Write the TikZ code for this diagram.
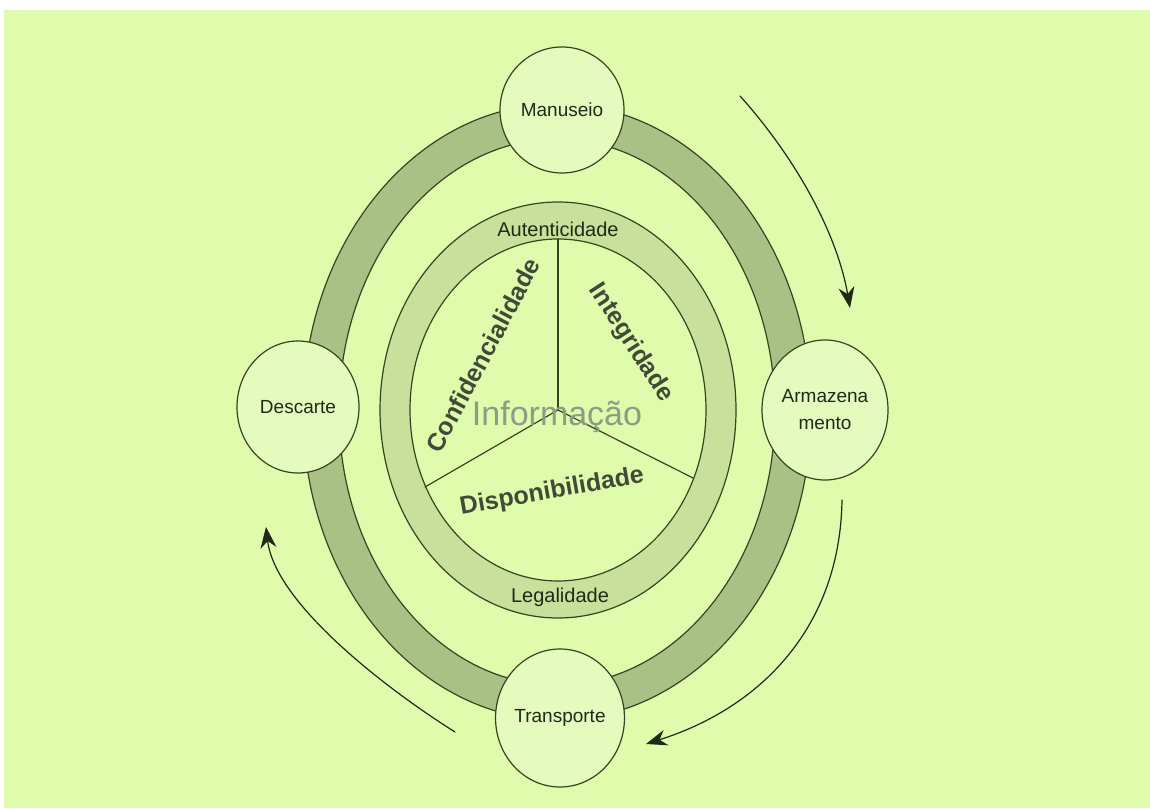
\documentclass[tikz,border=0pt]{standalone}
\usepackage{fontspec}
\setmainfont{Liberation Sans}
\usetikzlibrary{arrows.meta,shapes.geometric}
\definecolor{ciBack}{HTML}{DEFCAB}
\definecolor{ciOuter}{HTML}{A9C185}
\definecolor{ciInner}{HTML}{C9E09D}
\definecolor{ciStage}{HTML}{E4FBBD}
\definecolor{ciInk}{HTML}{1F2A16}
\definecolor{ciLine}{HTML}{34451F}
\definecolor{ciMuted}{HTML}{8E9B85}
\tikzset{
  ci diagram/.style={x=1pt, y=1pt, text=ciInk,
    line cap=round, line join=round},
  ci edge/.style={draw=ciLine, line width=1.2pt},
  ci stage/.style={ellipse, ci edge, fill=ciStage, inner sep=0pt,
    align=center, font=\fontsize{19}{27}\selectfont},
  ci arrow/.style={-{Stealth[length=21pt,width=16pt]}, draw=ciInk, line width=1.2pt},
  ci ring label/.style={font=\fontsize{20}{24}\selectfont, inner sep=0pt},
  ci pillar/.style={font=\bfseries\fontsize{25}{30}\selectfont, text=ciInk!85, inner sep=0pt},
  ci core/.style={font=\fontsize{34}{40}\selectfont, text=ciMuted, inner sep=0pt}
}

\begin{document}
\begin{tikzpicture}[ci diagram]
\useasboundingbox (0,0) rectangle (1150,808);
\fill[ciBack] (4,0) rectangle (1150,798);

% outer ring (life cycle)
\coordinate (cycle) at (557,396);
\fill[ciOuter, even odd rule] (cycle) ellipse [x radius=254pt, y radius=308pt]
  (cycle) ellipse [x radius=218pt, y radius=273pt];
\draw[ci edge] (cycle) ellipse [x radius=254pt, y radius=308pt];
\draw[ci edge] (cycle) ellipse [x radius=218pt, y radius=273pt];

% inner ring
\coordinate (core) at (558,398);
\fill[ciInner, even odd rule] (core) ellipse [x radius=178pt, y radius=208pt]
  (core) ellipse [x radius=148pt, y radius=171pt];
\draw[ci edge] (core) ellipse [x radius=178pt, y radius=208pt];
\draw[ci edge] (core) ellipse [x radius=148pt, y radius=171pt];

% three sectors
\coordinate (core top) at (558,569);
\coordinate (core left) at (425,321);
\coordinate (core right) at (693,330);
\draw[ci edge] (core) -- (core top);
\draw[ci edge] (core) -- (core left);
\draw[ci edge] (core) -- (core right);

\node[ci ring label] (autent) at (558,579) {Autenticidade};
\node[ci ring label] (legal) at (560,211) {Legalidade};
\node[ci core] (info) at (557,391) {Informação};
\node[ci pillar, rotate=62] (confid) at (483,453) {Confidencialidade};
\node[ci pillar, rotate=-57] (integ) at (631,465) {Integridade};
\node[ci pillar, rotate=10] (dispon) at (552,316) {Disponibilidade};

% stages
\node[ci stage, minimum width=124pt, minimum height=126pt] (manuseio) at (562,698) {Manuseio};
\node[ci stage, minimum width=126pt, minimum height=140pt] (armaz) at (825,398) {Armazena\\mento};
\node[ci stage, minimum width=126pt, minimum height=138pt] (transp) at (560,90) {Transporte};
\node[ci stage, minimum width=122pt, minimum height=132pt] (descarte) at (298,401) {Descarte};

% direction of the cycle
\coordinate (turn a start) at (740,712);
\coordinate (turn a end) at (850,500);
\coordinate (turn b start) at (842,308);
\coordinate (turn b end) at (646,64);
\coordinate (turn c start) at (455,76);
\coordinate (turn c end) at (266,281);
\draw[ci arrow] (turn a start) .. controls (800,645) and (838,570) .. (turn a end);
\draw[ci arrow] (turn b start) .. controls (840,180) and (760,100) .. (turn b end);
\draw[ci arrow] (turn c start) .. controls (385,120) and (275,205) .. (turn c end);
\end{tikzpicture}
\end{document}
